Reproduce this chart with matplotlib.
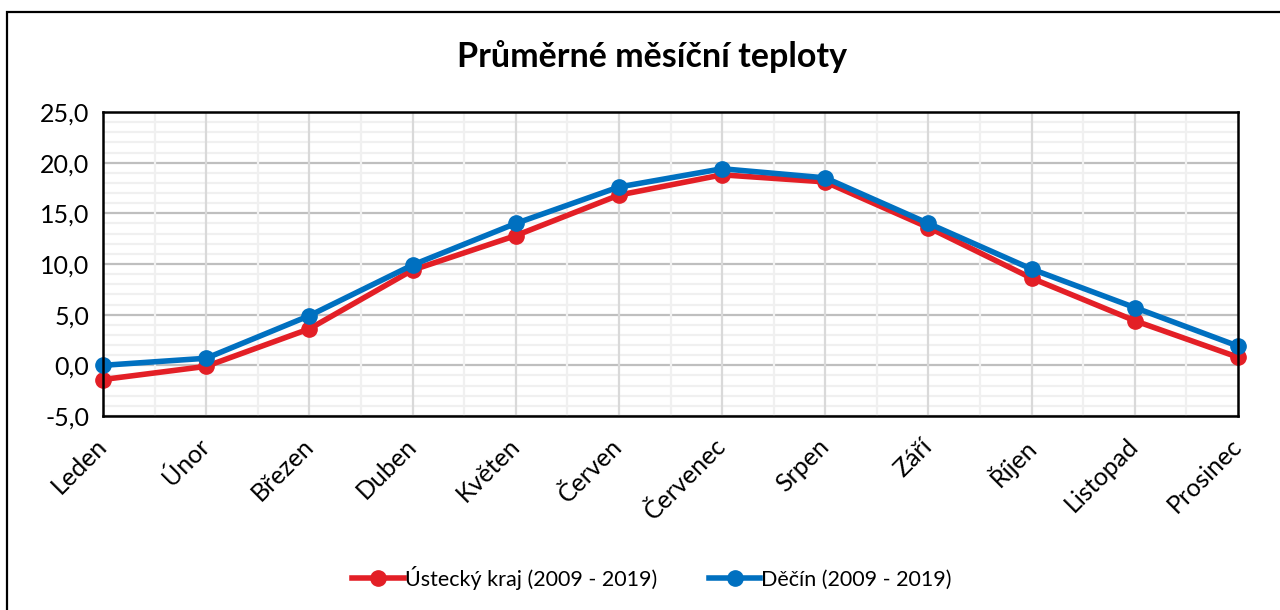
import numpy as np
import matplotlib
matplotlib.use("Agg")
import matplotlib.pyplot as plt
from matplotlib.patches import Rectangle
from matplotlib.ticker import MultipleLocator, FuncFormatter

plt.rcParams['font.family'] = ['Lato', 'Open Sans', 'DejaVu Sans']

# Data
months = ['Leden', 'Únor', 'Březen', 'Duben', 'Květen', 'Červen',
          'Červenec', 'Srpen', 'Září', 'Říjen', 'Listopad', 'Prosinec']
ustecky = [-1.4, -0.1, 3.6, 9.4, 12.8, 16.8, 18.8, 18.1, 13.6, 8.6, 4.4, 0.8]
decin = [0.0, 0.7, 4.9, 9.9, 14.0, 17.6, 19.4, 18.5, 14.0, 9.5, 5.7, 1.9]
label_ustecky = 'Ústecký kraj (2009 - 2019)'
label_decin = 'Děčín (2009 - 2019)'
title = 'Průměrné měsíční teploty'

red = '#E31F26'
blue = '#0070C0'

fig = plt.figure(figsize=(12.8, 6.1), dpi=100)
fig.patch.set_facecolor('white')

# outer chart frame (bottom and right run off the picture)
fig.patches.append(Rectangle((7 / 1280, -0.05), 1.1, 1 - 12 / 610 + 0.05,
                             transform=fig.transFigure, fill=False,
                             edgecolor='black', linewidth=1.6, zorder=0))

ax = fig.add_axes([103 / 1280, 194 / 610, (1238 - 103) / 1280, (416 - 112) / 610])
x = np.arange(len(months))

ax.plot(x, ustecky, color=red, lw=4.0, marker='o', ms=11,
        label=label_ustecky, zorder=3, solid_joinstyle='round', clip_on=False)
ax.plot(x, decin, color=blue, lw=4.0, marker='o', ms=11,
        label=label_decin, zorder=4, solid_joinstyle='round', clip_on=False)

ax.set_xlim(0, len(months) - 1)
ax.set_ylim(-5, 25)
ax.yaxis.set_major_locator(MultipleLocator(5))
ax.yaxis.set_minor_locator(MultipleLocator(1))
ax.yaxis.set_major_formatter(FuncFormatter(lambda v, p: f'{v:.1f}'.replace('.', ',')))

# gridlines: light horizontal minor, grey major, vertical lines drawn on top
ax.grid(which='minor', axis='y', color='#F0F0F0', lw=1.6, zorder=0)
ax.grid(which='major', axis='y', color='#BFBFBF', lw=1.6, zorder=1)
for xi in x[1:-1]:
    ax.axvline(xi, color='#D9D9D9', lw=1.6, zorder=1.2)
for xi in x[:-1] + 0.5:
    ax.axvline(xi, color='#F0F0F0', lw=1.6, zorder=0.9)
ax.set_axisbelow(True)

for s in ax.spines.values():
    s.set_color('black')
    s.set_linewidth(1.8)
    s.set_zorder(5)

ax.tick_params(which='both', length=0)
ax.tick_params(axis='y', labelsize=18, pad=10)
ax.set_xticks(x)
ax.set_xticklabels(months, rotation=45, ha='right', va='center',
                   rotation_mode='anchor', fontsize=18)
ax.tick_params(axis='x', pad=19)

fig.text(652 / 1280, 1 - 57 / 610, title, ha='center', va='center',
         fontsize=24.5, fontweight='bold')

fig.legend(loc='center', bbox_to_anchor=(652 / 1280, 1 - 578 / 610), ncol=2,
           frameon=False, fontsize=15.5, handlelength=2.4, handletextpad=0.05,
           columnspacing=2.4)

fig.savefig('out.png', dpi=100, facecolor='white')
